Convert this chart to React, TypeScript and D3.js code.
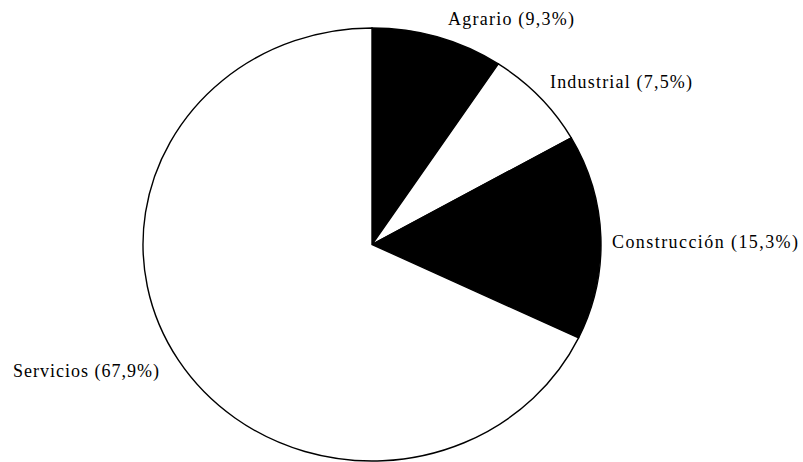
import React from 'react'
import * as d3 from 'd3'

const width = 803
const height = 462

// sectors, clockwise from 12 o'clock
const sectors = ['Agrario', 'Industrial', 'Construcción', 'Servicios']
const shares = [9.3, 7.5, 15.3, 67.9]
const shareLabels = ['9,3%', '7,5%', '15,3%', '67,9%']
const fills = ['#000', '#fff', '#000', '#fff']

// pie is a slightly wide ellipse
const cx = 372
const cy = 244.5
const ry = 216.5
const rx = 229

// label anchors (left x, baseline y, text width)
const labelPos = [
  { x: 448, y: 25, w: 126 },
  { x: 550, y: 88, w: 142 },
  { x: 612, y: 248, w: 186 },
  { x: 13, y: 377, w: 146 },
]

export default function App() {
  const pie = d3.pie<number>().sort(null).value(d => d)
  const arcs = pie(shares)
  const arc = d3.arc<d3.PieArcDatum<number>>().innerRadius(0).outerRadius(ry)

  return (
    <svg width={width} height={height} style={{ position: 'absolute', left: 0, top: 0, background: '#fff' }}>
      <g transform={`translate(${cx},${cy}) scale(${rx / ry},1)`}>
        {arcs.map((a, i) => (
          <path key={i} d={arc(a) || ''} fill={fills[i]} stroke="#000" strokeWidth={1.4}
            vectorEffect="non-scaling-stroke" />
        ))}
      </g>
      {sectors.map((s, i) => (
        <text key={s} x={labelPos[i].x} y={labelPos[i].y} textLength={labelPos[i].w}
          lengthAdjust="spacing" fontFamily="'Liberation Serif', 'Times New Roman', serif" fontSize={18} fill="#000">
          {`${s} (${shareLabels[i]})`}
        </text>
      ))}
    </svg>
  )
}
